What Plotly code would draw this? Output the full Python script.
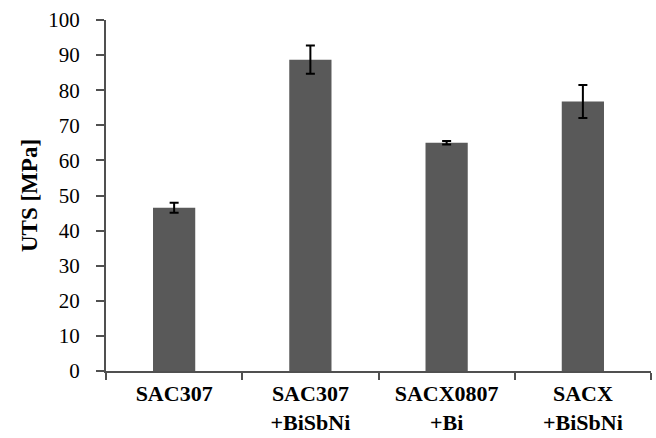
import plotly.graph_objects as go

categories = ["SAC307", "SAC307<br>+BiSbNi", "SACX0807<br>+Bi", "SACX<br>+BiSbNi"]
uts = [46.5, 88.7, 65.0, 76.8]
err = [1.4, 4.0, 0.5, 4.7]
y_ticks = list(range(0, 101, 10))

SERIF = "Liberation Serif, Times New Roman, serif"

fig = go.Figure()
fig.add_trace(go.Bar(
    x=categories, y=uts,
    marker=dict(color="#595959", line=dict(width=0)),
    width=0.31,
    error_y=dict(type="data", array=err, visible=True, color="#000000", thickness=2, width=4.5),
))

fig.update_layout(
    width=656, height=438,
    margin=dict(l=106, r=5, t=20, b=67),
    plot_bgcolor="white", paper_bgcolor="white",
    showlegend=False,
    font=dict(family=SERIF, color="#000000"),
)
fig.update_xaxes(
    showline=True, linecolor="#505050", linewidth=2,
    ticks="outside", tickson="boundaries", ticklen=7, tickcolor="#505050", tickwidth=1.5,
    tickfont=dict(size=22, family=SERIF, weight="bold"),
    tickangle=0,
    ticklabelstandoff=2,
    automargin=False,
    showgrid=False,
)
fig.update_yaxes(
    range=[0, 100], tickvals=y_ticks,
    showline=True, linecolor="#505050", linewidth=2,
    ticks="outside", ticklen=8, tickcolor="#505050", tickwidth=1.5,
    tickfont=dict(size=21, family=SERIF),
    ticklabelstandoff=12,
    automargin=False,
    showgrid=False, zeroline=False,
    title=dict(text="UTS [MPa]", font=dict(size=23, family=SERIF, weight="bold"), standoff=4),
)

fig.write_html("out.html")
